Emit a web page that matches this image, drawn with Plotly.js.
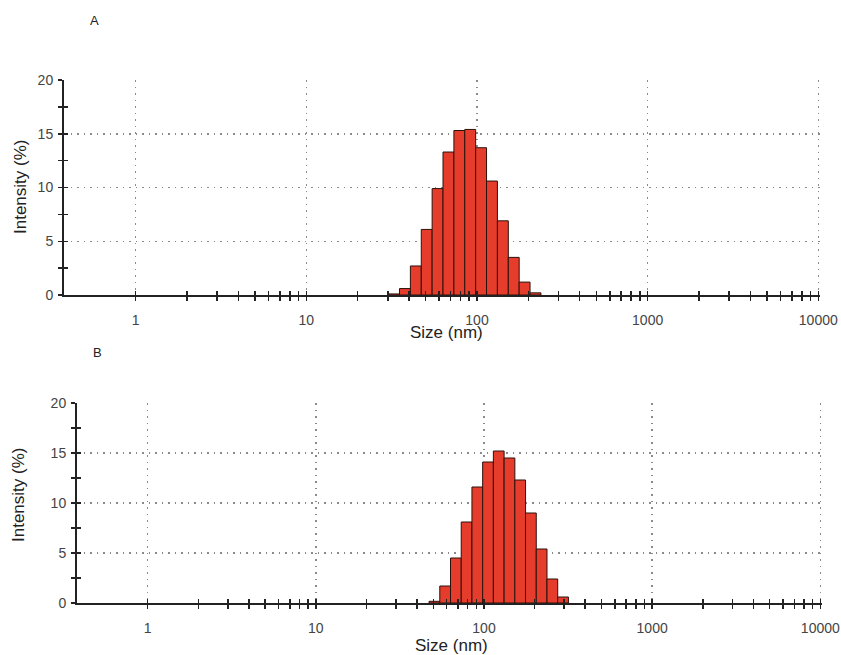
<!DOCTYPE html>
<html>
<head>
<meta charset="utf-8">
<script src="https://cdn.plot.ly/plotly-3.0.1.min.js"></script>
<style>html,body{margin:0;padding:0;background:#fff;} #chart{width:841px;height:655px;}</style>
</head>
<body>
<div id="chart"></div>
<script>
// Size classes (nm) and intensity (%) for sample A
const sizesA = [32.67, 37.84, 43.82, 50.75, 58.77, 68.06, 78.82, 91.28, 105.7, 122.4, 141.8, 164.2, 190.1, 220.2];
const intensityA = [0.1, 0.6, 2.7, 6.1, 9.9, 13.3, 15.3, 15.4, 13.7, 10.6, 6.9, 3.5, 1.2, 0.2];
// Size classes (nm) and intensity (%) for sample B
const sizesB = [50.75, 58.77, 68.06, 78.82, 91.28, 105.7, 122.4, 141.8, 164.2, 190.1, 220.2, 255.0, 295.3];
const intensityB = [0.17, 1.7, 4.5, 8.1, 11.6, 14.1, 15.2, 14.5, 12.3, 9.0, 5.4, 2.4, 0.6];
// Size-class geometric step (bins are log-spaced)
const binFactor = 1.1583;
const xTickVals = [1, 10, 100, 1000, 10000];
const xTickText = ['1', '10', '100', '1000', '10000'];
const yTickVals = [0, 5, 10, 15, 20];
const minorDigits = [2, 3, 4, 5, 6, 7, 8, 9];

const W = 841, H = 655;
const FONT = 'Liberation Sans, Arial, sans-serif';
const sq = Math.sqrt(binFactor);
const xMinorVals = [];
[1, 10, 100, 1000].forEach(d => minorDigits.forEach(m => xMinorVals.push(d * m)));

function barTrace(sizes, vals, xa, ya) {
  return {
    type: 'bar', x: sizes, y: vals, xaxis: xa, yaxis: ya,
    width: sizes.map(s => s * (sq - 1 / sq)),
    offset: sizes.map(s => s / sq - s),
    marker: {color: '#e63c2c', line: {color: '#2a120c', width: 1}},
    hoverinfo: 'x+y', showlegend: false
  };
}
function emptyTrace(xa, ya) {
  return {type: 'scatter', mode: 'markers', x: [null], y: [null], xaxis: xa, yaxis: ya,
          showlegend: false, hoverinfo: 'skip'};
}

function xAxis(domain, anchor, inside) {
  return {
    type: 'log', domain: domain, anchor: anchor, range: [-0.42, 4.01],
    tickmode: 'array', tickvals: xTickVals, ticktext: xTickText,
    ticks: inside ? 'inside' : 'outside', ticklen: 4, tickwidth: 1.5, tickcolor: '#222',
    minor: {ticks: inside ? 'inside' : 'outside', ticklen: 4, tickwidth: 1.5, tickcolor: '#222',
            tickmode: 'array', tickvals: xMinorVals, showgrid: false},
    showline: !inside, linecolor: '#222', linewidth: 2,
    showgrid: !inside, gridcolor: '#8a8a8a', gridwidth: 1.5, griddash: '1.5px,5px',
    zeroline: false, ticklabelstandoff: 7, showticklabels: !inside,
    tickfont: {family: FONT, size: 14, color: '#444'}, fixedrange: true
  };
}
function yAxis(domain, anchor, inside) {
  return {
    domain: domain, anchor: anchor, range: [0, 20],
    tickmode: 'array', tickvals: yTickVals,
    ticks: inside ? 'inside' : 'outside', ticklen: 4, tickwidth: 1.5, tickcolor: '#222',
    minor: {ticks: inside ? 'inside' : 'outside', ticklen: 4, tickwidth: 1.5, tickcolor: '#222', dtick: 2.5, showgrid: false},
    showline: !inside, linecolor: '#222', linewidth: 2,
    showgrid: !inside, gridcolor: '#8a8a8a', gridwidth: 1.5, griddash: '1.5px,5px',
    zeroline: false, ticklabelstandoff: 2, showticklabels: !inside,
    tickfont: {family: FONT, size: 14, color: '#444'}, fixedrange: true
  };
}

const xdA = [64 / W, 820 / W], ydA = [1 - 295 / H, 1 - 80 / H];
const xdB = [77 / W, 822 / W], ydB = [1 - 603 / H, 1 - 403 / H];

const data = [
  barTrace(sizesA, intensityA, 'x', 'y'), barTrace(sizesB, intensityB, 'x2', 'y2'),
  emptyTrace('x3', 'y3'), emptyTrace('x4', 'y4')
];

function ann(text, x, y, size, rot) {
  return {text: text, x: x / W, y: 1 - y / H, xref: 'paper', yref: 'paper', showarrow: false,
          textangle: rot || 0, font: {family: FONT, size: size, color: '#222'}, xanchor: 'center', yanchor: 'middle'};
}

const x3 = xAxis(xdA, 'y', true); x3.overlaying = 'x';
const y3 = yAxis(ydA, 'x', true); y3.overlaying = 'y';
const x4 = xAxis(xdB, 'y2', true); x4.overlaying = 'x2';
const y4 = yAxis(ydB, 'x2', true); y4.overlaying = 'y2';

const layout = {
  width: W, height: H, margin: {l: 0, r: 0, t: 0, b: 0},
  paper_bgcolor: '#fff', plot_bgcolor: '#fff', bargap: 0,
  xaxis: xAxis(xdA, 'y'), yaxis: yAxis(ydA, 'x'),
  xaxis2: xAxis(xdB, 'y2'), yaxis2: yAxis(ydB, 'x2'),
  xaxis3: x3, yaxis3: y3, xaxis4: x4, yaxis4: y4,
  annotations: [
    ann('A', 94, 20, 13), ann('B', 97, 352, 13),
    ann('Intensity (%)', 20, 187, 17, -90), ann('Intensity (%)', 18, 495, 17, -90),
    ann('Size (nm)', 446, 332, 17), ann('Size (nm)', 452, 645, 17)
  ]
};

Plotly.newPlot('chart', data, layout, {staticPlot: true});
</script>
</body>
</html>
